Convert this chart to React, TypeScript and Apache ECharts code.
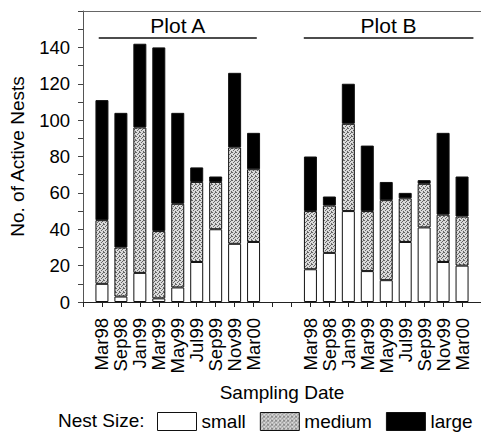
import React, { useEffect, useRef } from "react";
import * as echarts from "echarts";

const dates = ["Mar98", "Sep98", "Jan99", "Mar99", "May99", "Jul99", "Sep99", "Nov99", "Mar00"];

const aSmall = [10, 3, 16, 2, 8, 22, 40, 32, 33];
const aMedium = [35, 27, 80, 37, 46, 44, 26, 53, 40];
const aLarge = [66, 74, 46, 101, 50, 8, 3, 41, 20];

const bSmall = [18, 27, 50, 17, 12, 33, 41, 22, 20];
const bMedium = [32, 26, 48, 33, 44, 24, 24, 26, 27];
const bLarge = [30, 5, 22, 36, 10, 3, 2, 45, 22];

const yTickLabels = [0, 20, 40, 60, 80, 100, 120, 140];
const sizeNames = ["small", "medium", "large"];
const plotNames = ["Plot A", "Plot B"];

const FONT = "'Liberation Sans', Arial, Helvetica, sans-serif";

export default function App() {
  const ref = useRef<HTMLDivElement>(null);

  useEffect(() => {
    if (!ref.current) return;
    const chart = echarts.init(ref.current, null, { renderer: "svg" });

    const cv = document.createElement("canvas");
    cv.width = 4;
    cv.height = 4;
    const ctx = cv.getContext("2d")!;
    ctx.fillStyle = "#dadada";
    ctx.fillRect(0, 0, 4, 4);
    ctx.fillStyle = "#666666";
    [[0, 0], [2, 1], [1, 2], [3, 3], [3, 0]].forEach(([x, y]) => ctx.fillRect(x, y, 1, 1));
    const stipple: any = { image: cv, repeat: "repeat", imageWidth: 4, imageHeight: 4 };

    // category layout: one blank slot at the y axis, Plot A, two blank slots, Plot B, one blank slot
    const categories = [
      "",
      ...dates.map((d) => "A|" + d),
      " ",
      "  ",
      ...dates.map((d) => "B|" + d),
      "   ",
    ];
    const build = (a: number[], b: number[]) => [null, ...a, null, null, ...b, null];
    const datas = [build(aSmall, bSmall), build(aMedium, bMedium), build(aLarge, bLarge)];
    const colors = ["#ffffff", stipple, "#000000"];

    const series: any[] = sizeNames.map((name, k) => ({
      name,
      type: "bar",
      stack: "nests",
      barWidth: 13,
      xAxisIndex: 0,
      data: datas[k],
      itemStyle: { color: colors[k], borderColor: "#111", borderWidth: 1 },
      emphasis: { disabled: true },
    }));

    const lineY = 145.4;
    const plotSpans = [
      [0.83, 9.17],
      [11.65, 20.6],
    ];
    series.push({
      name: "plots",
      type: "line",
      xAxisIndex: 1,
      data: [],
      silent: true,
      markLine: {
        silent: true,
        symbol: ["none", "none"],
        lineStyle: { color: "#111", width: 1.5, type: "solid" },
        label: {
          show: true,
          position: "middle",
          formatter: "{b}",
          fontSize: 21,
          color: "#000",
          fontFamily: FONT,
          distance: 2,
        },
        data: plotNames.map((n, i) => [
          { name: n, coord: [plotSpans[i][0], lineY] },
          { coord: [plotSpans[i][1], lineY] },
        ]),
      },
    });

    chart.setOption({
      animation: false,
      grid: { left: 82, right: -5.25, top: 11, bottom: 130, containLabel: false },
      xAxis: [
        {
          type: "category",
          data: categories,
          boundaryGap: false,
          splitLine: { show: false },
          axisLine: { show: true, lineStyle: { color: "#222", width: 1 } },
          axisTick: { show: true, length: 5, inside: false, interval: 0, lineStyle: { color: "#222" } },
          axisLabel: {
            show: true,
            interval: 0,
            rotate: 90,
            margin: 16,
            fontSize: 18.5,
            fontFamily: FONT,
            color: "#000",
            formatter: (v: string) => (v.includes("|") ? v.split("|")[1] : ""),
          },
          name: "Sampling Date",
          nameLocation: "middle",
          nameGap: 81,
          nameTextStyle: { fontSize: 19, fontFamily: FONT, color: "#000" },
        },
        {
          type: "value",
          position: "top",
          min: 0,
          max: categories.length - 1,
          splitLine: { show: false },
          axisLine: { show: true, lineStyle: { color: "#666", width: 1 } },
          axisTick: { show: false },
          axisLabel: { show: false },
        },
      ],
      yAxis: {
        type: "value",
        min: 0,
        max: 160,
        interval: 10,
        splitLine: { show: false },
        axisLine: { show: true, lineStyle: { color: "#555", width: 1 } },
        axisTick: { show: true, length: 5, lineStyle: { color: "#444" } },
        axisLabel: {
          margin: 13,
          fontSize: 18.5,
          fontFamily: FONT,
          color: "#000",
          customValues: yTickLabels,
        },
        name: "No. of Active Nests",
        nameLocation: "middle",
        nameRotate: 90,
        nameGap: 56,
        nameTextStyle: { fontSize: 19, fontFamily: FONT, color: "#000" },
      },
      legend: {
        data: sizeNames,
        left: 157,
        top: 412,
        icon: "rect",
        itemWidth: 39,
        itemHeight: 18,
        itemGap: 14,
        padding: 0,
        selectedMode: false,
        itemStyle: { borderColor: "#111", borderWidth: 1 },
        textStyle: { fontSize: 19, fontFamily: FONT, color: "#000" },
      },
      graphic: [
        {
          type: "text",
          left: 58,
          top: 411,
          style: { text: "Nest Size:", fontSize: 19, fontFamily: FONT, fill: "#000" },
        },
      ],
      series,
    });

    return () => chart.dispose();
  }, []);

  return (
    <div
      ref={ref}
      style={{ position: "absolute", left: 0, top: 0, width: 481, height: 432 }}
    />
  );
}
